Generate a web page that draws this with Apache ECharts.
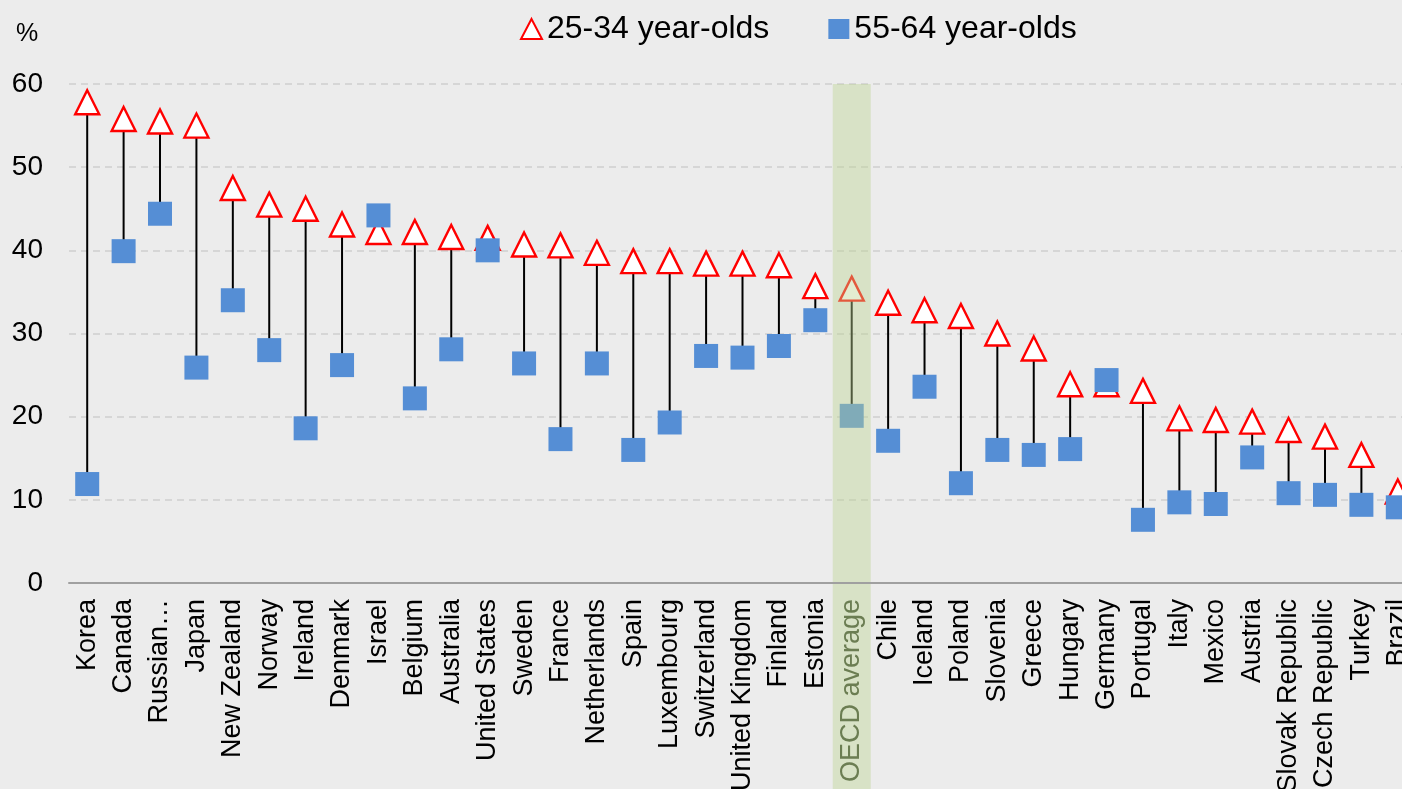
<!DOCTYPE html>
<html>
<head>
<meta charset="utf-8">
<script src="https://cdn.jsdelivr.net/npm/echarts@6/dist/echarts.min.js"></script>
<style>
  html, body { margin: 0; padding: 0; background: #ECECEC; overflow: hidden; }
  #chart { width: 1420px; height: 789px; }
</style>
</head>
<body>
<div id="chart"></div>
<script>
const categories = ['Korea','Canada','Russian…','Japan','New Zealand','Norway','Ireland','Denmark','Israel','Belgium','Australia','United States','Sweden','France','Netherlands','Spain','Luxembourg','Switzerland','United Kingdom','Finland','Estonia','OECD average','Chile','Iceland','Poland','Slovenia','Greece','Hungary','Germany','Portugal','Italy','Mexico','Austria','Slovak Republic','Czech Republic','Turkey','Brazil'];
const young = [57.8,55.8,55.5,55.0,47.5,45.5,45.0,43.1,42.2,42.2,41.6,41.5,40.7,40.6,39.7,38.7,38.7,38.4,38.4,38.2,35.7,35.4,33.7,32.8,32.1,30.0,28.2,23.9,23.9,23.1,19.8,19.6,19.4,18.4,17.6,15.4,11.0];
const old = [11.9,39.9,44.4,25.9,34.0,28.0,18.6,26.2,44.2,22.2,28.1,40.0,26.4,17.3,26.4,16.0,19.3,27.3,27.1,28.5,31.6,20.1,17.1,23.6,12.0,16.0,15.4,16.1,24.4,7.6,9.7,9.5,15.1,10.8,10.6,9.4,9.1];
const yTicks = [0,10,20,30,40,50,60];
const highlight = 'OECD average';
const seriesNames = ['25-34 year-olds','55-64 year-olds'];

const FONT = "'Liberation Sans', Arial, sans-serif";
const chart = echarts.init(document.getElementById('chart'));
const gridLeft = 69, gridRight = 4;

chart.setOption({
  animation: false,
  backgroundColor: '#ECECEC',
  textStyle: { fontFamily: FONT },
  title: {
    text: '%', left: 11, top: 17,
    textStyle: { fontFamily: FONT, fontSize: 25, fontWeight: 'normal', color: '#000' }
  },
  legend: {
    data: seriesNames,
    left: 515, top: 8,
    itemWidth: 21, itemHeight: 20, itemGap: 59,
    textStyle: { fontFamily: FONT, fontSize: 32, color: '#000' }
  },
  grid: [
    { left: gridLeft, right: gridRight, top: 84, bottom: 206, containLabel: false, outerBoundsMode: 'none' },
    { left: gridLeft, right: gridRight, top: 84, bottom: 0, containLabel: false, outerBoundsMode: 'none' }
  ],
  xAxis: [
    {
      type: 'category', data: categories, gridIndex: 0, z: 10,
      axisLine: { show: true, lineStyle: { color: '#A0A0A0', width: 2 } },
      axisTick: { show: false },
      axisLabel: {
        rotate: 90, interval: 0, margin: 16,
        fontFamily: FONT, fontSize: 27, color: '#000',
        formatter: v => v === highlight ? '{g|' + v + '}' : v,
        rich: { g: { fontFamily: FONT, fontSize: 27, color: '#6B7D52' } }
      }
    },
    { type: 'category', data: categories, gridIndex: 1, show: false }
  ],
  yAxis: [
    {
      type: 'value', gridIndex: 0, min: yTicks[0], max: yTicks[yTicks.length - 1], interval: 10,
      axisLine: { show: false }, axisTick: { show: false },
      axisLabel: { fontFamily: FONT, fontSize: 28, color: '#000', margin: 26 },
      splitLine: { lineStyle: { color: '#D6D6D6', width: 2, type: [7, 5] } }
    },
    { type: 'value', gridIndex: 1, min: 0, max: 1, show: false }
  ],
  series: [
    {
      type: 'custom', name: 'range', xAxisIndex: 0, yAxisIndex: 0, z: 1,
      data: categories.map((c, i) => [i, young[i], old[i]]),
      renderItem: (params, api) => {
        const p1 = api.coord([api.value(0), api.value(1)]);
        const p2 = api.coord([api.value(0), api.value(2)]);
        return { type: 'line', shape: { x1: p1[0], y1: p1[1], x2: p2[0], y2: p2[1] },
                 style: { stroke: '#000', lineWidth: 2 } };
      },
      silent: true
    },
    {
      type: 'scatter', name: seriesNames[0], xAxisIndex: 0, yAxisIndex: 0, z: 3,
      symbol: 'triangle', symbolSize: 24,
      itemStyle: { color: '#FFFFFF', borderColor: '#FF0000', borderWidth: 2.4, opacity: 1 },
      data: young
    },
    {
      type: 'scatter', name: seriesNames[1], xAxisIndex: 0, yAxisIndex: 0, z: 4,
      symbol: 'rect', symbolSize: 24,
      itemStyle: { color: '#558ED5', opacity: 1 },
      data: old
    },
    {
      type: 'bar', name: 'band', xAxisIndex: 1, yAxisIndex: 1, z: 6,
      barWidth: 38, silent: true,
      itemStyle: { color: 'rgba(188,211,146,0.42)' },
      data: categories.map(c => c === highlight ? 1 : null)
    }
  ]
});
</script>
</body>
</html>
